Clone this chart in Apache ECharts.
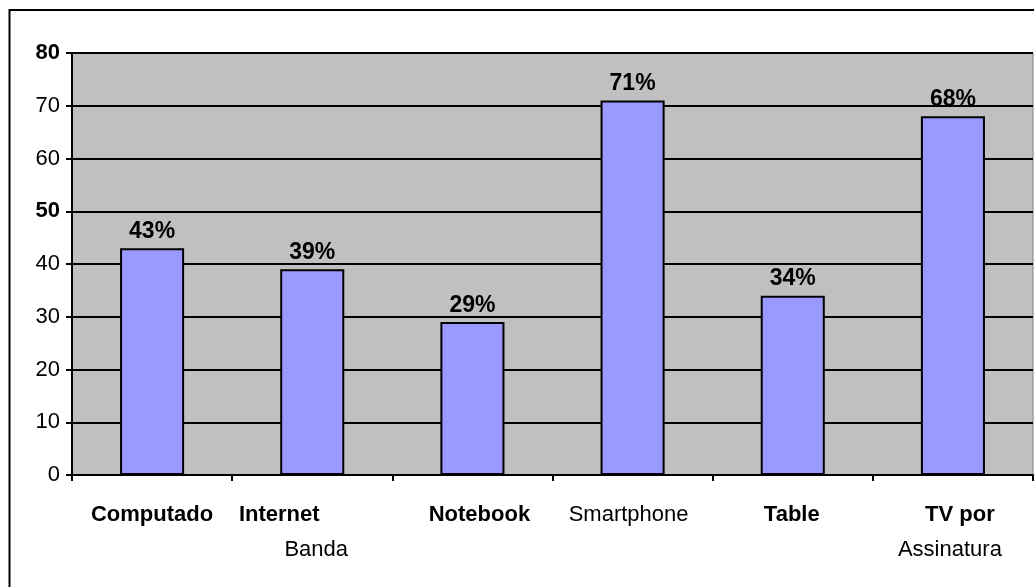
<!DOCTYPE html>
<html><head><meta charset="utf-8">
<script src="https://cdn.jsdelivr.net/npm/echarts@6/dist/echarts.min.js"></script>
<style>html,body{margin:0;padding:0;background:#fff}#c{width:1034px;height:587px}</style>
</head><body><div id="c"></div>
<script>
const categories = ['Computado', 'Internet Banda', 'Notebook', 'Smartphone', 'Table', 'TV por Assinatura'];
const labelLines = [['Computado'], ['Internet', 'Banda'], ['Notebook'], ['Smartphone'], ['Table'], ['TV por', 'Assinatura']];
const values = [43, 39, 29, 71, 34, 68];
const yTicks = [0, 10, 20, 30, 40, 50, 60, 70, 80];

// styling per label line (bold or not, horizontal nudge)
const lineStyles = [
  [['b', 0]],
  [['b', -33], ['n', 4]],
  [['b', 7]],
  [['n', -4]],
  [['b', -1]],
  [['b', 7], ['n', -3]]
];
const rich = {};
const FONT = '"Liberation Sans", Arial, sans-serif';
lineStyles.forEach((ls, i) => ls.forEach((s, j) => {
  const shift = s[1];
  rich['l' + i + '_' + j] = {
    fontFamily: FONT, fontSize: 22, color: '#000',
    fontWeight: s[0] === 'b' ? 'bold' : 'normal',
    lineHeight: 35,
    padding: [0, shift < 0 ? -2 * shift : 0, 0, shift > 0 ? 2 * shift : 0]
  };
}));

const chart = echarts.init(document.getElementById('c'), null, {renderer: 'canvas'});
chart.setOption({
  animation: false,
  backgroundColor: '#fff',
  graphic: [{
    type: 'rect', silent: true, z: 100,
    shape: {x: 9.5, y: 10, width: 1200, height: 800},
    style: {fill: 'none', stroke: '#000', lineWidth: 2}
  }],
  grid: {
    left: 72, top: 53, right: 1, height: 422,
    show: true, backgroundColor: '#C0C0C0', borderColor: '#808080', borderWidth: 1
  },
  xAxis: {
    type: 'category', data: categories,
    axisLine: {lineStyle: {color: '#000', width: 2}},
    axisTick: {show: true, length: 6, lineStyle: {color: '#000', width: 2}, alignWithLabel: false},
    axisLabel: {
      interval: 0, margin: 22,
      formatter: function (v, idx) {
        return labelLines[idx].map((t, j) => '{l' + idx + '_' + j + '|' + t + '}').join('\n');
      },
      rich: rich
    }
  },
  yAxis: {
    type: 'value', min: yTicks[0], max: yTicks[yTicks.length - 1], interval: 10,
    axisLine: {show: true, lineStyle: {color: '#000', width: 2}},
    axisTick: {show: true, length: 6, lineStyle: {color: '#000', width: 2}},
    splitLine: {show: true, lineStyle: {color: '#000', width: 2}},
    axisLabel: {
      margin: 12,
      formatter: function (v) { return (v === 80 || v === 50) ? '{b|' + v + '}' : '{n|' + v + '}'; },
      rich: {
        b: {fontFamily: FONT, fontSize: 22, fontWeight: 'bold', color: '#000'},
        n: {fontFamily: FONT, fontSize: 22, fontWeight: 'normal', color: '#000'}
      }
    }
  },
  series: [{
    type: 'bar', data: values, barWidth: '40%',
    itemStyle: {color: '#9999FF', borderColor: '#000', borderWidth: 2},
    label: {
      show: true, position: 'top', distance: 5,
      formatter: '{c}%',
      fontFamily: FONT, fontSize: 23, fontWeight: 'bold', color: '#000'
    }
  }]
});
</script></body></html>
